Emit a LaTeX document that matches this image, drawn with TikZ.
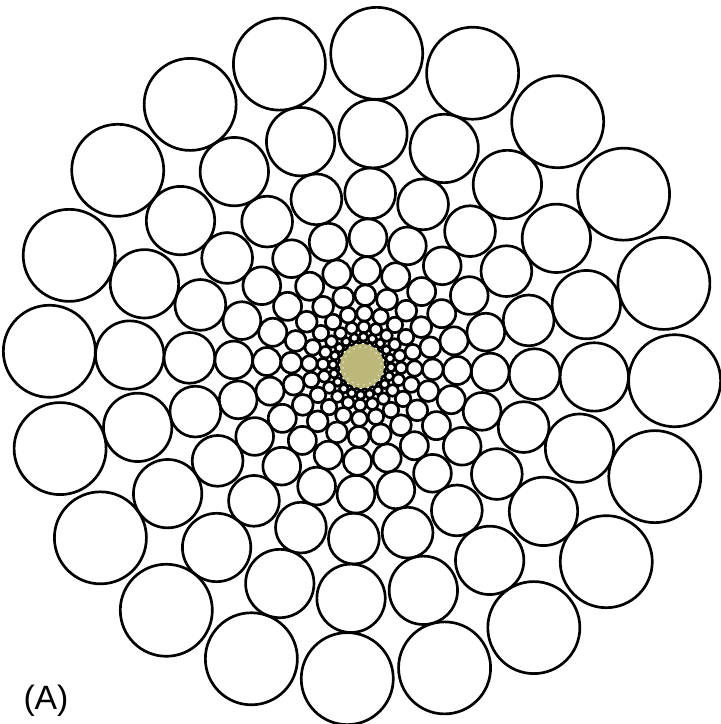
\documentclass[tikz,border=0pt]{standalone}
\usepackage{fontspec}
\setmainfont{Liberation Sans}
\definecolor{corecol}{RGB}{188,184,122}
\tikzset{
  ring/.style={draw, line width=1.9pt},
  core/.style={fill=corecol},
  speck/.style={fill=corecol!45!white},
  tag/.style={inner sep=0pt, font=\fontsize{24}{28}\selectfont},
}

\begin{document}
\begin{tikzpicture}[x=0.025cm, y=0.025cm]
  \useasboundingbox (-362,-358) rectangle (359,366);
  % rings of touching circles, 20 per ring
  \foreach \k in {0,...,11} {
    \pgfmathsetmacro{\R}{313*0.743^\k}
    \pgfmathsetmacro{\rad}{0.147*\R}
    \foreach \j in {0,...,19}
      \draw[ring] (15.3+18*\j:\R) circle (\rad);
  }
  % centre disk
  \fill[core] (0,0) circle (22);
  \foreach \j in {0,...,19}
    \fill[speck] (6.3+18*\j:19) circle (1);
  \node[tag] (label) at (-316,-335) {(A)};
\end{tikzpicture}
\end{document}
